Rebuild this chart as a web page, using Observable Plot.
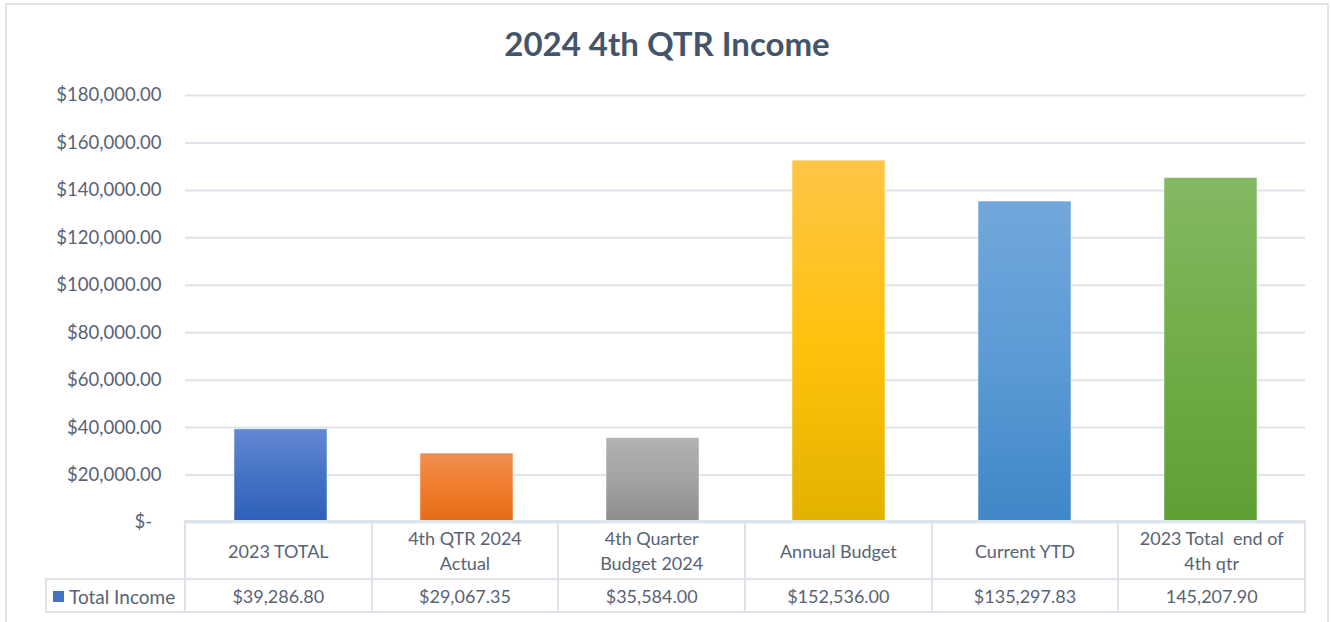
<!DOCTYPE html>
<html>
<head>
<meta charset="utf-8">
<script src="https://cdn.jsdelivr.net/npm/d3@7"></script>
<script src="https://cdn.jsdelivr.net/npm/@observablehq/plot@0.6"></script>
<style>
  html, body { margin: 0; padding: 0; background: #fff; }
  #wrap { position: relative; width: 1331px; height: 622px; overflow: hidden; font-family: Lato, "Open Sans", sans-serif; }
  #frame { position: absolute; left: 5px; top: 3px; width: 1324px; height: 640px; border: 2px solid #e0e4eb; box-sizing: border-box; }
  #title { position: absolute; left: 0; width: 1334px; top: 23px; text-align: center; font: bold 33px Lato, sans-serif; color: #44546a; }
  #chart { position: absolute; left: 0; top: 0; }
  .cell { position: absolute; box-sizing: border-box; display: flex; align-items: center; justify-content: center; text-align: center; white-space: pre; color: #586374; font-size: 18px; line-height: 25px; }
  .hline, .vline { position: absolute; background: #dfe3ea; }
</style>
</head>
<body>
<div id="wrap">
  <div id="frame"></div>
  <div id="chart"></div>
  <div id="table"></div>
  <div id="title"></div>
</div>
<script>
const title = "2024 4th QTR Income";
const seriesName = "Total Income";
const categories = ["2023 TOTAL", "4th QTR 2024\nActual", "4th Quarter\nBudget 2024", "Annual Budget", "Current YTD", "2023 Total  end of\n4th qtr"];
const values = [39286.80, 29067.35, 35584.00, 152536.00, 135297.83, 145207.90];
const valueLabels = ["$39,286.80", "$29,067.35", "$35,584.00", "$152,536.00", "$135,297.83", "145,207.90"];
const yTicks = [0, 20000, 40000, 60000, 80000, 100000, 120000, 140000, 160000, 180000];
const gradientStops = [
  ["#6589d3", "#4472c4", "#2f5fb9"],
  ["#f08e52", "#f07d2c", "#e46b16"],
  ["#b2b2b2", "#a3a3a3", "#8e8e8e"],
  ["#ffc547", "#ffc20e", "#e3b200"],
  ["#72a7dc", "#5b9bd5", "#3f87c7"],
  ["#84b963", "#70ad47", "#5e9f32"]
];
const keyColor = "#4472c4";

document.getElementById("title").textContent = title;

const W = 1331, plotLeft = 185, plotRight = 1305, plotTop = 95, plotBottom = 522;
const data = categories.map((c, i) => ({cat: c, value: values[i]}));
const gradIds = categories.map((c, i) => `grad${i}`);

const defsMark = () => {
  const defs = d3.create("svg:defs");
  gradientStops.forEach((stops, i) => {
    const g = defs.append("linearGradient").attr("id", gradIds[i]).attr("x1", 0).attr("y1", 0).attr("x2", 0).attr("y2", 1);
    g.append("stop").attr("offset", "0%").attr("stop-color", stops[0]);
    g.append("stop").attr("offset", "50%").attr("stop-color", stops[1]);
    g.append("stop").attr("offset", "100%").attr("stop-color", stops[2]);
  });
  return defs.node();
};

const fmt = v => v === 0 ? "$-\u00a0\u00a0" : "$" + d3.format(",.2f")(v);

const chart = Plot.plot({
  width: W,
  height: 540,
  marginLeft: plotLeft,
  marginRight: W - plotRight,
  marginTop: plotTop,
  marginBottom: 540 - plotBottom,
  style: {fontFamily: "Lato, sans-serif", fontSize: "18px", color: "#586374", background: "transparent", overflow: "visible"},
  x: {domain: categories, paddingInner: 0.5, paddingOuter: 0.25, axis: null},
  y: {domain: [0, 180000], axis: null},
  color: {domain: categories, range: gradIds.map(id => `url(#${id})`)},
  marks: [
    defsMark,
    Plot.ruleY(yTicks, {stroke: "#dfe3ea", strokeWidth: 2}),
    Plot.axisY({ticks: yTicks, tickFormat: fmt, tickSize: 0, tickPadding: 24, fontSize: 18.5, fill: "#586374", label: null}),
    Plot.barY(data, {x: "cat", y: "value", fill: "cat", stroke: "#ffffff", strokeOpacity: 0.5, strokeWidth: 1})
  ]
});
document.getElementById("chart").appendChild(chart);

// Data table below the chart, built from the same arrays
const table = document.getElementById("table");
const step = (plotRight - plotLeft) / categories.length;
const headTop = 521, rowTop = 579, rowBottom = 612, legendLeft = 45;
function line(cls, l, t, w, h) {
  const d = document.createElement("div");
  d.className = cls;
  Object.assign(d.style, {left: l + "px", top: t + "px", width: w + "px", height: h + "px"});
  table.appendChild(d);
}
function cell(text, l, t, w, h, extraStyle) {
  const d = document.createElement("div");
  d.className = "cell";
  Object.assign(d.style, {left: l + "px", top: t + "px", width: w + "px", height: h + "px"}, extraStyle || {});
  if (typeof text === "string") d.textContent = text; else d.appendChild(text);
  table.appendChild(d);
}
categories.forEach((c, i) => {
  const l = plotLeft + i * step;
  cell(c, l, headTop + 2, step, rowTop - headTop - 2);
  cell(valueLabels[i], l, rowTop + 1, step, rowBottom - rowTop - 1);
});
line("hline", plotLeft - 1, headTop - 1, plotRight - plotLeft + 2, 2);
line("hline", legendLeft, rowTop - 1, plotRight - legendLeft + 1, 2);
line("hline", legendLeft, rowBottom - 1, plotRight - legendLeft + 1, 2);
for (let i = 0; i <= categories.length; i++) {
  line("vline", plotLeft + i * step - 1, headTop - 1, 2, rowBottom - headTop + 1);
}
line("vline", legendLeft, rowTop - 1, 2, rowBottom - rowTop + 1);
const leg = document.createElement("span");
leg.style.display = "flex"; leg.style.alignItems = "center";
const key = document.createElement("span");
Object.assign(key.style, {display: "inline-block", width: "11px", height: "11px", background: keyColor, marginRight: "5px"});
leg.appendChild(key);
leg.appendChild(document.createTextNode(seriesName));
cell(leg, legendLeft + 2, rowTop + 1, plotLeft - legendLeft - 2, rowBottom - rowTop - 1, {justifyContent: "flex-start", paddingLeft: "6px", fontSize: "19px"});
</script>
</body>
</html>
